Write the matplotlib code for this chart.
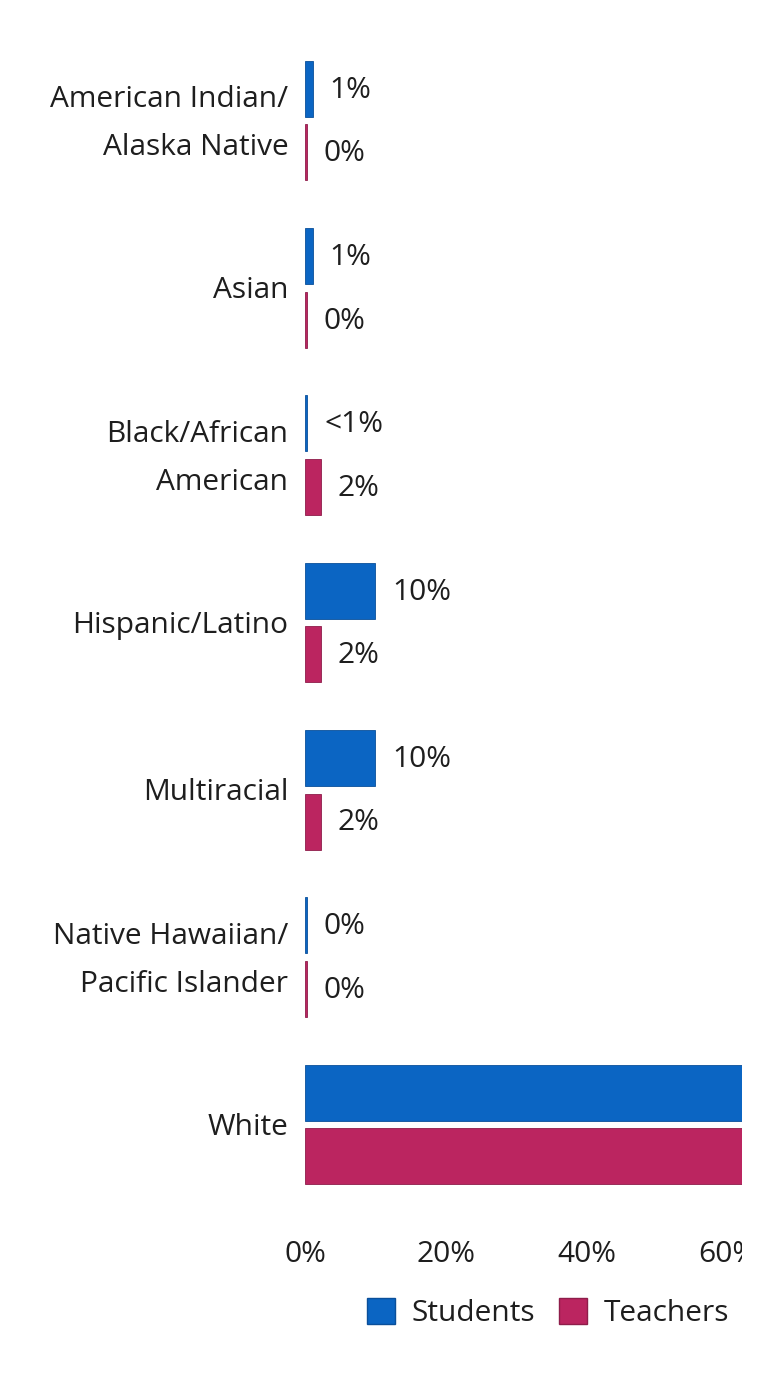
import matplotlib
matplotlib.use("Agg")
import matplotlib.pyplot as plt
import matplotlib.transforms as mtransforms
import numpy as np
from matplotlib.patches import Patch
from matplotlib.transforms import Bbox

categories = ["American Indian/\nAlaska Native", "Asian", "Black/African\nAmerican",
              "Hispanic/Latino", "Multiracial", "Native Hawaiian/\nPacific Islander", "White"]
students = [1.1, 1.1, 0.35, 10.0, 10.0, 0.3, 76.0]
teachers = [0.3, 0.3, 2.2, 2.2, 2.2, 0.3, 95.0]
student_labels = ["1%", "1%", "<1%", "10%", "10%", "0%", "76%"]
teacher_labels = ["0%", "0%", "2%", "2%", "2%", "0%", "95%"]
xticks = [0, 20, 40, 60]
xtick_labels = ["0%", "20%", "40%", "60%"]

blue = "#0b65c3"
pink = "#bb2560"
FS = 21.5

plt.rcParams['font.family'] = ['Open Sans', 'DejaVu Sans']

W, H = 763, 1380
fig = plt.figure(figsize=(W / 100, H / 100), dpi=100)
ax = fig.add_axes([305 / W, 1 - 1208 / H, (742 - 305) / W, (1208 - 37) / H])

y = np.arange(len(categories))
off = 0.19
h = 0.335
ax.barh(y - off, students, height=h, color=blue, edgecolor="#0a4f9a", linewidth=0.6)
ax.barh(y + off, teachers, height=h, color=pink, edgecolor="#8e1d4a", linewidth=0.6)

ax.set_xlim(0, 62)
ax.set_ylim(len(categories) - 0.5, -0.5)

for i in range(len(categories)):
    ax.annotate(student_labels[i], (students[i], y[i] - off), xytext=(12, -1),
                textcoords="offset points", va="center", ha="left", fontsize=FS,
                color="#1e1e1e", annotation_clip=True)
    ax.annotate(teacher_labels[i], (teachers[i], y[i] + off), xytext=(12, -1),
                textcoords="offset points", va="center", ha="left", fontsize=FS,
                color="#1e1e1e", annotation_clip=True)

ax.set_yticks(y)
ax.set_yticklabels(categories, fontsize=FS, color="#1e1e1e", linespacing=1.87,
                   ha="right", va="center")
ax.set_xticks(xticks)
ax.set_xticklabels(xtick_labels, fontsize=FS, color="#1e1e1e")
ax.tick_params(axis="y", length=0, pad=12)
ax.tick_params(axis="x", length=0, pad=23)
for s in ax.spines.values():
    s.set_visible(False)

shift = mtransforms.ScaledTranslation(0, -3 / 100, fig.dpi_scale_trans)
for lab in ax.get_yticklabels():
    lab.set_transform(lab.get_transform() + shift)

clip = Bbox.from_extents(0, 0, 742, H)
for lab in ax.get_xticklabels():
    lab.set_clip_box(clip)
    lab.set_clip_on(True)

handles = [Patch(facecolor=blue, edgecolor="#0a4f9a", label="Students"),
           Patch(facecolor=pink, edgecolor="#8e1d4a", label="Teachers")]
leg = fig.legend(handles=handles, loc="center", bbox_to_anchor=(548 / W, 1 - 1313 / H),
                 ncol=2, frameon=False, fontsize=FS, handlelength=0.95, handleheight=0.95,
                 handletextpad=0.55, columnspacing=0.8)
for t in leg.get_texts():
    t.set_color("#1e1e1e")

fig.savefig("out.png", dpi=100, facecolor="white")
